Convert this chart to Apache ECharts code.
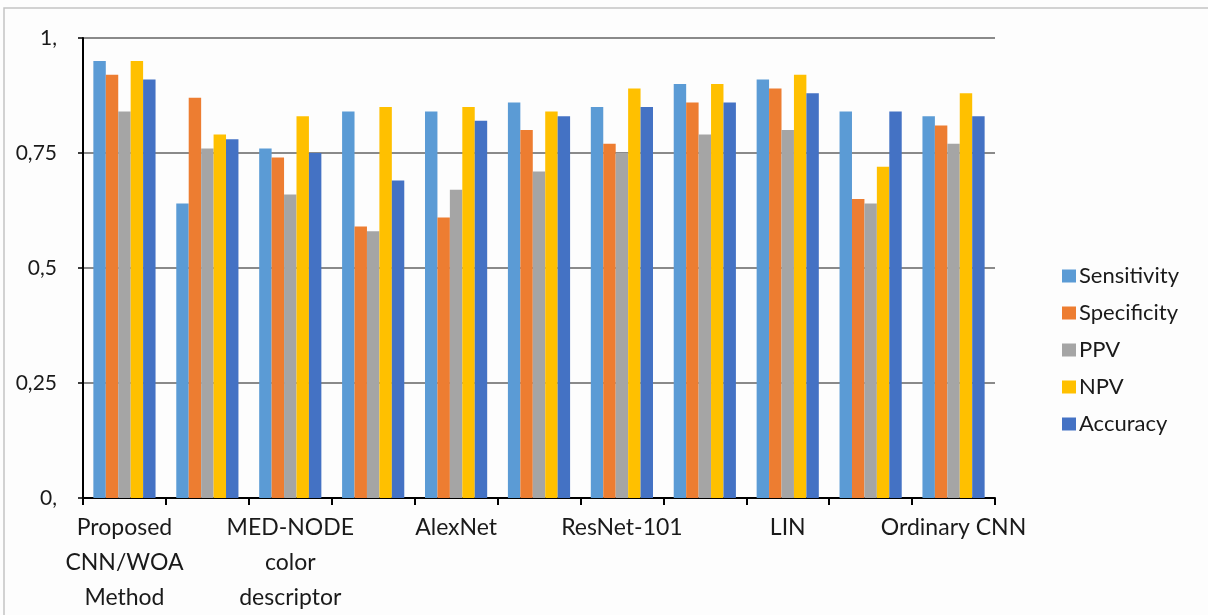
<!DOCTYPE html>
<html>
<head>
<meta charset="utf-8">
<script src="https://cdn.jsdelivr.net/npm/echarts@6/dist/echarts.min.js"></script>
<style>
  html, body { margin: 0; padding: 0; background: #fdfdfd; }
  #chart { width: 1208px; height: 615px; }
</style>
</head>
<body>
<div id="chart"></div>
<script>
// Methods compared (every other name is shown on the axis)
const categories = [
  'Proposed\nCNN/WOA\nMethod',
  'Model 2',
  'MED-NODE\ncolor\ndescriptor',
  'Model 4',
  'AlexNet',
  'Model 6',
  'ResNet-101',
  'Model 8',
  'LIN',
  'Model 10',
  'Ordinary CNN'
];

const seriesNames = ['Sensitivity', 'Specificity', 'PPV', 'NPV', 'Accuracy'];
const seriesColors = ['#5b9bd5', '#ed7d31', '#a5a5a5', '#ffc000', '#4472c4'];

const sensitivity = [0.95, 0.64, 0.76, 0.84, 0.84, 0.86, 0.85, 0.90, 0.91, 0.84, 0.83];
const specificity = [0.92, 0.87, 0.74, 0.59, 0.61, 0.80, 0.77, 0.86, 0.89, 0.65, 0.81];
const ppv         = [0.84, 0.76, 0.66, 0.58, 0.67, 0.71, 0.75, 0.79, 0.80, 0.64, 0.77];
const npv         = [0.95, 0.79, 0.83, 0.85, 0.85, 0.84, 0.89, 0.90, 0.92, 0.72, 0.88];
const accuracy    = [0.91, 0.78, 0.75, 0.69, 0.82, 0.83, 0.85, 0.86, 0.88, 0.84, 0.83];

const seriesValues = [sensitivity, specificity, ppv, npv, accuracy];

// Value-axis tick labels (decimal comma)
const yTickValues = [0, 0.25, 0.5, 0.75, 1];
const yTickLabels = ['0,', '0,25', '0,5', '0,75', '1,'];

const FONT = 'Lato, "Open Sans", sans-serif';
const TEXT = '#1a1a1a';

const chart = echarts.init(document.getElementById('chart'), null, { renderer: 'canvas' });

chart.setOption({
  backgroundColor: '#fdfdfd',
  animation: false,
  graphic: [{
    type: 'rect',
    shape: { x: 4, y: 8, width: 1300, height: 700 },
    style: { fill: 'none', stroke: '#c4c4c4', lineWidth: 1.5 },
    silent: true,
    z: -1
  }],
  grid: { left: 83, right: 213, top: 38, bottom: 115, containLabel: false },
  legend: {
    orient: 'vertical',
    left: 1057,
    top: 258,
    itemWidth: 14,
    itemHeight: 13,
    itemGap: 11,
    icon: 'rect',
    data: seriesNames,
    textStyle: { fontFamily: FONT, fontSize: 22, color: TEXT, lineHeight: 26, padding: [0, 0, 0, -2] }
  },
  xAxis: {
    type: 'category',
    data: categories,
    axisLine: { lineStyle: { color: '#000', width: 2 } },
    axisTick: { show: true, interval: 0, length: 7, lineStyle: { color: '#000', width: 2 } },
    axisLabel: {
      interval: 1,
      margin: 12,
      fontFamily: FONT,
      fontSize: 23,
      lineHeight: 35,
      color: TEXT
    }
  },
  yAxis: {
    type: 'value',
    min: 0,
    max: 1,
    interval: 0.25,
    axisLine: { show: true, lineStyle: { color: '#000', width: 2 } },
    axisTick: { show: true, length: 5, lineStyle: { color: '#000', width: 1.5 } },
    splitLine: { lineStyle: { color: '#8a8a8a', width: 2 } },
    axisLabel: {
      margin: 26,
      fontFamily: FONT,
      fontSize: 21,
      color: TEXT,
      formatter: function (v) {
        const i = yTickValues.findIndex(t => Math.abs(t - v) < 1e-9);
        return i >= 0 ? yTickLabels[i] : '';
      }
    }
  },
  series: seriesNames.map((name, i) => ({
    name: name,
    type: 'bar',
    data: seriesValues[i],
    itemStyle: { color: seriesColors[i] },
    barGap: '0%',
    barCategoryGap: '25%'
  }))
});
</script>
</body>
</html>
